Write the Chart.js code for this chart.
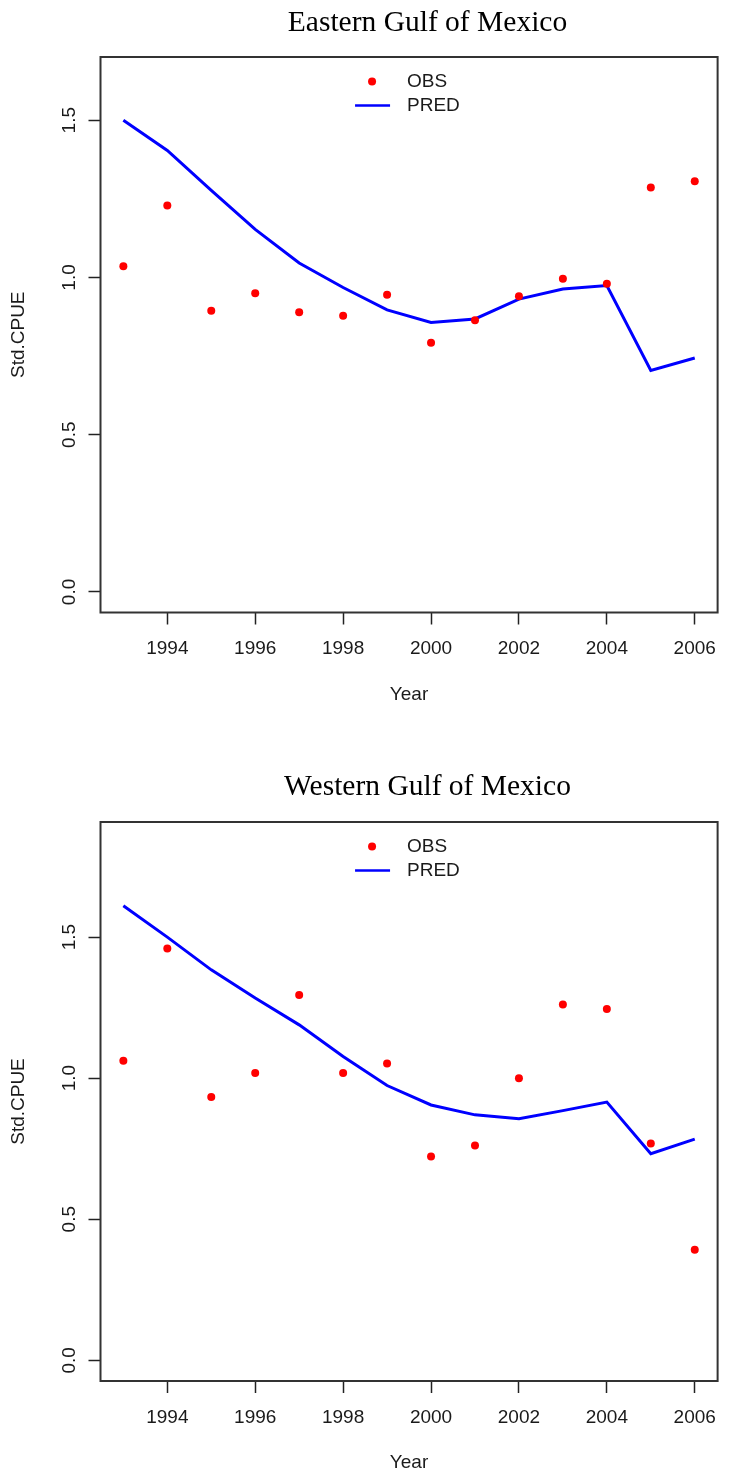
<!DOCTYPE html>
<html>
<head>
<meta charset="utf-8">
<title>Std.CPUE - Gulf of Mexico</title>
<script src="https://cdn.jsdelivr.net/npm/chart.js@4.4.0/dist/chart.umd.min.js"></script>
<style>
  html, body { margin: 0; padding: 0; background: #fff; }
  canvas { display: block; }
</style>
</head>
<body>
<canvas id="eastChart" width="729" height="738"></canvas>
<canvas id="westChart" width="729" height="738"></canvas>
<script>
// values
const years = [1993, 1994, 1995, 1996, 1997, 1998, 1999, 2000, 2001, 2002, 2003, 2004, 2005, 2006];
const yearTicks = [1994, 1996, 1998, 2000, 2002, 2004, 2006];
const cpueTicks = [0, 0.5, 1.0, 1.5];

const eastObs  = [1.036, 1.229, 0.894, 0.950, 0.889, 0.878, 0.945, 0.792, 0.864, 0.940, 0.996, 0.980, 1.286, 1.306];
const eastPred = [1.500, 1.404, 1.277, 1.153, 1.046, 0.968, 0.897, 0.857, 0.868, 0.931, 0.963, 0.974, 0.704, 0.744];
const westObs  = [1.062, 1.460, 0.933, 1.018, 1.295, 1.018, 1.052, 0.722, 0.761, 1.000, 1.261, 1.245, 0.768, 0.392];
const westPred = [1.611, 1.500, 1.384, 1.284, 1.189, 1.077, 0.974, 0.905, 0.870, 0.856, 0.885, 0.915, 0.732, 0.784];

const sans = "'Liberation Sans', Arial, sans-serif";
const serif = "'Liberation Serif', 'Times New Roman', serif";
const textColor = '#1a1a1a';

// R style frame round the plot region
const boxPlugin = {
    id: 'rBox',
    afterDraw(chart) {
        const a = chart.chartArea;
        const ctx = chart.ctx;
        ctx.save();
        ctx.strokeStyle = '#333';
        ctx.lineWidth = 2;
        ctx.strokeRect(a.left, a.top, a.right - a.left, a.bottom - a.top);
        ctx.restore();
    }
};

// main title, serif, sits a bit right of the plot centre like the original
const titlePlugin = {
    id: 'rTitle',
    afterDraw(chart, args, opts) {
        const ctx = chart.ctx;
        ctx.save();
        ctx.font = '29.5px ' + serif;
        ctx.fillStyle = '#000';
        ctx.textAlign = 'center';
        ctx.textBaseline = 'alphabetic';
        ctx.fillText(opts.text, 427.5, opts.baseline);
        ctx.restore();
    }
};

// legend("top") look: dot / line on the left, label on the right
const legendPlugin = {
    id: 'rLegend',
    afterDraw(chart) {
        const a = chart.chartArea;
        const ctx = chart.ctx;
        const cx = (a.left + a.right) / 2;
        const obs = chart.data.datasets[0];
        const pred = chart.data.datasets[1];
        ctx.save();
        ctx.font = '19px ' + sans;
        ctx.textBaseline = 'middle';
        ctx.textAlign = 'left';

        let y = a.top + 24.5;
        ctx.fillStyle = obs.pointBackgroundColor;
        ctx.beginPath();
        ctx.arc(cx - 37, y, obs.pointRadius, 0, Math.PI * 2);
        ctx.fill();
        ctx.fillStyle = textColor;
        ctx.fillText(obs.label, cx - 2, y);

        y = a.top + 48.5;
        ctx.strokeStyle = pred.borderColor;
        ctx.lineWidth = 2.5;
        ctx.beginPath();
        ctx.moveTo(cx - 54, y);
        ctx.lineTo(cx - 19, y);
        ctx.stroke();
        ctx.fillText(pred.label, cx - 2, y);
        ctx.restore();
    }
};

function makeChart(id, titleText, obs, pred, yMin, yMax, lay) {
    const ctx = document.getElementById(id).getContext('2d');
    return new Chart(ctx, {
        type: 'scatter',
        data: {
            datasets: [{
                label: 'OBS',
                data: years.map((yr, i) => ({ x: yr, y: obs[i] })),
                pointBackgroundColor: '#ff0000',
                pointBorderWidth: 0,
                pointRadius: 4,
                showLine: false
            }, {
                label: 'PRED',
                data: years.map((yr, i) => ({ x: yr, y: pred[i] })),
                borderColor: '#0000ff',
                borderWidth: 3,
                pointRadius: 0,
                showLine: true,
                tension: 0
            }]
        },
        options: {
            responsive: false,
            animation: false,
            layout: { autoPadding: false, padding: { top: lay.top, left: 0, right: 3, bottom: 0 } },
            plugins: {
                legend: { display: false },
                tooltip: { enabled: false },
                title: { display: false },
                rTitle: { text: titleText, baseline: lay.titleBaseline }
            },
            scales: {
                x: {
                    type: 'linear',
                    position: 'bottom',
                    min: 1992.48,
                    max: 2006.52,
                    afterBuildTicks: s => { s.ticks = yearTicks.map(v => ({ value: v })); },
                    afterFit: s => { s.height = lay.xHeight; },
                    grid: { drawOnChartArea: false, drawTicks: true, tickLength: 12, tickWidth: 1.5, tickColor: '#222' },
                    border: { display: false },
                    ticks: {
                        font: { family: sans, size: 19 },
                        color: textColor,
                        padding: 13,
                        maxRotation: 0,
                        autoSkip: false,
                        callback: v => String(v)
                    },
                    title: {
                        display: true,
                        text: 'Year',
                        color: textColor,
                        font: { family: sans, size: 19 },
                        padding: { top: 0, bottom: lay.yearBottom }
                    }
                },
                y: {
                    position: 'left',
                    min: yMin,
                    max: yMax,
                    afterBuildTicks: s => { s.ticks = cpueTicks.map(v => ({ value: v })); },
                    afterFit: s => { s.width = 100.5; },
                    grid: { drawOnChartArea: false, drawTicks: true, tickLength: 12, tickWidth: 1.5, tickColor: '#222' },
                    border: { display: false },
                    ticks: {
                        font: { family: sans, size: 19 },
                        color: textColor,
                        padding: 6,
                        minRotation: 90,
                        maxRotation: 90,
                        crossAlign: 'center',
                        callback: v => v.toFixed(1)
                    },
                    title: {
                        display: true,
                        text: 'Std.CPUE',
                        color: textColor,
                        font: { family: sans, size: 19 },
                        padding: { top: 7, bottom: 0 }
                    }
                }
            }
        },
        plugins: [boxPlugin, titlePlugin, legendPlugin]
    });
}

document.addEventListener('DOMContentLoaded', function() {
    makeChart('eastChart', 'Eastern Gulf of Mexico', eastObs, eastPred, -0.0654, 1.701,
        { top: 57, titleBaseline: 31, xHeight: 125.5, yearBottom: 31.6 });
    makeChart('westChart', 'Western Gulf of Mexico', westObs, westPred, -0.0734, 1.908,
        { top: 84, titleBaseline: 57, xHeight: 95, yearBottom: 1.6 });
});
</script>
</body>
</html>
